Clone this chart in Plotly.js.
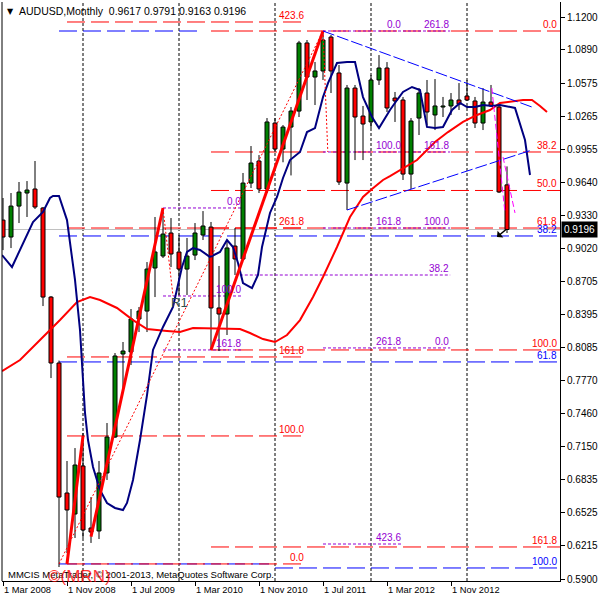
<!DOCTYPE html>
<html><head><meta charset="utf-8">
<script src="https://cdn.plot.ly/plotly-3.0.1.min.js"></script>
<style>html,body{margin:0;padding:0;background:#fff}</style>
</head><body><div id="chart" style="width:600px;height:600px"></div>
<script>
// ---- axis labels ----
const tickMonths = [0, 8, 16, 24, 32, 40, 48, 56];
const tickLabels = ['1 Mar 2008','1 Nov 2008','1 Jul 2009','1 Mar 2010','1 Nov 2010','1 Jul 2011','1 Mar 2012','1 Nov 2012'];
const priceTicks = [1.1200,1.0890,1.0575,1.0265,0.9955,0.9640,0.9330,0.9020,0.8705,0.8395,0.8085,0.7770,0.7460,0.7150,0.6835,0.6525,0.6215,0.5900];

// ---- monthly candles, Mar 2008 .. Jun 2013 ----
const open = [0.9285,0.9125,0.9417,0.9540,0.9578,0.9399,0.8559,0.7937,0.6711,0.6513,
0.6966,0.6381,0.6353,0.6900,0.7239,0.8022,0.8041,0.8352,0.8427,0.8833,
0.8946,0.9163,0.8984,0.8823,0.8955,0.9144,0.9219,0.8456,0.8399,0.9040,
0.8918,0.9634,0.9842,0.9578,1.0200,0.9955,1.0162,1.0313,1.0955,1.0634,
1.0691,1.1011,1.0672,0.9634,1.0530,1.0266,1.0210,1.0606,1.0719,1.0436,
1.0417,0.9719,1.0247,1.0483,1.0276,1.0351,1.0361,1.0417,1.0455,1.0408,
1.0200,1.0398,1.0351,0.9617];
const high = [0.9493,0.9540,0.9644,0.9653,0.9842,0.9408,0.8569,0.7960,0.7013,0.7135,
0.7277,0.6673,0.7013,0.7371,0.8031,0.8135,0.8446,0.8465,0.8889,0.9314,
0.9399,0.9304,0.9144,0.9116,0.9257,0.9370,0.9267,0.8852,0.9078,0.9210,
0.9729,0.9983,0.9898,1.0247,1.0247,1.0181,1.0351,1.0975,1.0983,1.0776,
1.1068,1.1030,1.0747,1.0559,1.0559,1.0361,1.0653,1.0841,1.0775,1.0493,
1.0446,1.0247,1.0530,1.0606,1.0615,1.0446,1.0483,1.0577,1.0606,1.0446,
1.0530,1.0559,1.0389,0.9791];
const low = [0.9002,0.9021,0.9257,0.9314,0.9389,0.8474,0.7795,0.6013,0.6145,0.6287,
0.6287,0.6240,0.6277,0.6834,0.7230,0.7701,0.7918,0.8229,0.8229,0.8559,
0.8927,0.8842,0.8578,0.8578,0.8908,0.9097,0.8060,0.8050,0.8201,0.8767,
0.8908,0.9587,0.9540,0.9540,0.9927,0.9830,0.9706,1.0257,1.0417,1.0370,
1.0606,1.0483,0.9616,0.9380,0.9851,0.9851,1.0153,1.0559,1.0304,1.0210,
0.9663,0.9578,1.0087,1.0181,1.0134,1.0257,1.0276,1.0323,1.0408,1.0153,
1.0134,1.0351,0.9540,0.9163];
const close = [0.9125,0.9417,0.9549,0.9568,0.9408,0.8559,0.7937,0.6673,0.6551,0.6975,
0.6362,0.6343,0.6900,0.7239,0.8003,0.8050,0.8352,0.8427,0.8823,0.8984,
0.9153,0.8965,0.8823,0.8946,0.9163,0.9229,0.8456,0.8399,0.9022,0.8918,
0.9634,0.9823,0.9578,1.0210,0.9955,1.0162,1.0313,1.0955,1.0634,1.0691,
1.0983,1.0691,0.9644,1.0530,1.0257,1.0191,1.0606,1.0719,1.0342,1.0408,
0.9719,1.0219,1.0483,1.0304,1.0361,1.0361,1.0417,1.0379,1.0417,1.0200,
1.0398,1.0361,0.9550,0.9196];

// ---- moving averages ----
const navyX = [-0.12,1.125,3.75,5,5.875,6.25,7,8,9,9.625,10,10.25,10.625,11.25,12.125,13,14,15,15.5,16.25,17.125,18,18.75,20,21.25,22.375,23,23.75,24.625,25.875,27.125,28,28.75,29.375,30,31.125,31.875,32.375,33.375,34.25,35,35.875,37.125,38,39,40,40.625,41.75,43,44,45,46.125,47,48.375,49.25,50,51.125,52.125,53,54,55,56.125,57.125,58,59,60,61.125,62.125,64,64.625,65.25,65.875];
const navyY = [0.8955,0.8842,0.9267,0.9361,0.9493,0.9512,0.9512,0.9285,0.8720,0.8248,0.7777,0.7466,0.7211,0.6956,0.6739,0.6617,0.6570,0.6551,0.6617,0.6834,0.7211,0.7635,0.8060,0.8277,0.8465,0.8842,0.8984,0.9021,0.9003,0.8937,0.8984,0.9097,0.9031,0.8880,0.8691,0.8644,0.8767,0.9031,0.9352,0.9503,0.9682,0.9851,0.9927,1.0115,1.0153,1.0445,1.0577,1.0766,1.0776,1.0776,1.0445,1.0257,1.0153,1.0323,1.0417,1.0493,1.0540,1.0512,1.0163,1.0153,1.0163,1.0323,1.0389,1.0351,1.0351,1.0370,1.0361,1.0370,1.0342,1.0200,1.0040,0.9710];
const redMaX = [-0.125,2.125,4.625,7.125,9.25,10.875,12.125,14.25,16.25,18,20.5,22.125,23.75,29.625,30.875,32.5,34,35.5,37.125,38.75,40,41.75,43.375,45,46.125,47.5,48.375,50,51.75,54,55.625,57.5,59.25,60.875,62.125,65,66.125,67.125,68];
const redMaY = [0.7861,0.7965,0.8154,0.8342,0.8512,0.8559,0.8531,0.8456,0.8342,0.8258,0.8239,0.8229,0.8267,0.8258,0.8220,0.8163,0.8135,0.8201,0.8342,0.8559,0.8748,0.9031,0.9314,0.9503,0.9578,0.9663,0.9700,0.9776,0.9851,1.0021,1.0115,1.0210,1.0276,1.0323,1.0389,1.0417,1.0417,1.0361,1.0304];

// ---- period separators (January of each year) ----
const yearStarts = [10, 22, 34, 46, 58];

// ---- Fibonacci objects ----
const fibRedRLevels = [1.1068,0.9927,0.9564,0.9210,0.8060,0.6202];
const fibRedRLabels = ['0.0','38.2','50.0','61.8','100.0','161.8'];
const fibRedRSpan = [26, 69.7];
const fibRedLLevels = [1.1153,0.9210,0.7994,0.7249,0.6042];
const fibRedLLabels = ['423.6','261.8','161.8','100.0','0.0'];
const fibRedLSpan = [8, 37.75];
const fibBlueLevels = [1.1068,0.9135,0.7947,0.6042,0.6004];
const fibBlueLabels = ['','38.2','61.8','','100.0'];
const fibBlueStart = [7,7,7,7,34];
const fibBlueEnd = [24.25,69.7,69.7,34,69.7];
const fibPurALevels = [0.9399,0.8569,0.8060];
const fibPurALabels = ['0.0','100.0','161.8'];
const fibPurASpan = [20, 29.9];
const fibPurBLevels = [1.1068,0.9927,0.9210,0.8079,0.6230,0.8767];
const fibPurBStart = [40,40,40,40,40,29.6];
const fibPurBEnd = [55.9,55.9,55.9,55.9,49.9,55.9];
const fibPurB1Labels = ['0.0','100.0','161.8','261.8','423.6'];
const fibPurB1Levels = [1.1068,0.9927,0.9210,0.8079,0.6230];
const fibPurB2Labels = ['261.8','161.8','100.0','38.2','0.0'];
const fibPurB2Levels = [1.1068,0.9927,0.9210,0.8767,0.8079];

// ---- trend lines [x0,x1],[y0,y1] ----
const zig1 = {x:[8,10], y:[0.6042,0.7249]};
const zig2 = {x:[11,20], y:[0.6300,0.9399]};
const zig3 = {x:[26,40], y:[0.8060,1.1068]};
const dot1 = {x:[7,40], y:[0.6042,1.1068]};
const dot2 = {x:[20,21.25], y:[0.9399,0.8569]};
const dot3 = {x:[40,40.6], y:[1.1068,0.9927]};
const triUp = {x:[40,66.125], y:[1.1068,1.0351]};
const triLo = {x:[43,66.125], y:[0.9380,0.9946]};
const mag1 = {x:[61.1,62.75], y:[1.0530,0.9352]};
const mag2 = {x:[62.5,64], y:[0.9880,0.9352]};

const FONT = 'Liberation Sans, Arial, sans-serif';
const n = open.length;
const lastClose = close[n - 1];

// bodies
const upX=[],upB=[],upH=[],dnX=[],dnB=[],dnH=[];
const wx=[],wy=[];
for (let i=0;i<n;i++){
  const top=Math.max(open[i],close[i]), bot=Math.min(open[i],close[i]);
  if (close[i]>=open[i]) {upX.push(i);upB.push(bot);upH.push(top-bot);} else {dnX.push(i);dnB.push(bot);dnH.push(top-bot);}
  wx.push(i,i,null,i,i,null); wy.push(high[i],top,null,bot,low[i],null);
}
const traces = [
  {type:'bar', x:upX, base:upB, y:upH, width:0.5, marker:{color:'#008000', line:{color:'#000', width:1}}, hoverinfo:'skip'},
  {type:'bar', x:dnX, base:dnB, y:dnH, width:0.5, marker:{color:'#ff0000', line:{color:'#000', width:1}}, hoverinfo:'skip'},
  {type:'scatter', mode:'lines', x:wx, y:wy, line:{color:'#000', width:1}, connectgaps:false, hoverinfo:'skip'},
  {type:'scatter', mode:'lines', x:redMaX, y:redMaY, line:{color:'#ff0000', width:2}, hoverinfo:'skip'},
  {type:'scatter', mode:'lines', x:navyX, y:navyY, line:{color:'#000080', width:2}, hoverinfo:'skip'},
];
function seg(o, color, width, dash){ traces.push({type:'scatter', mode:'lines', x:o.x, y:o.y, line:{color, width, dash}, hoverinfo:'skip'}); }
seg(dot1,'#ff0000',1,'2px,2px');
seg(dot2,'#ff0000',1,'2px,2px');
seg(dot3,'#ff0000',1,'2px,2px');
seg(zig1,'#ff0000',3,'solid');
seg(zig2,'#ff0000',3,'solid');
seg(zig3,'#ff0000',3,'solid');
seg(triUp,'#0000ff',1,'12px,3px');
seg(triLo,'#0000ff',1,'12px,3px');
seg(mag1,'#ff00ff',1,'6px,3px');
seg(mag2,'#ff00ff',1,'6px,3px');

const shapes = [];
const annotations = [];
function hline(y,x0,x1,color,dash){ shapes.push({type:'line', xref:'x', yref:'y', x0, x1, y0:y, y1:y, layer:'below', line:{color, width:1, dash}}); }
function lab(text,x,y,color){ if(!text) return; annotations.push({text, x, y, xref:'x', yref:'y', xanchor:'right', yanchor:'bottom', showarrow:false, borderpad:0, font:{family:FONT, size:10, color}}); }

const RED_DASH='18px,6px', PUR_DOT='3px,2px';
yearStarts.forEach(m => shapes.push({type:'line', xref:'x', yref:'paper', x0:m, x1:m, y0:0, y1:1, layer:'below', line:{color:'#000', width:1, dash:'3px,2px'}}));
shapes.push({type:'line', xref:'paper', yref:'y', x0:0, x1:1, y0:lastClose, y1:lastClose, layer:'below', line:{color:'#c0c0c0', width:1}});
shapes.push({type:'line', xref:'paper', yref:'paper', x0:0, x1:0, y0:0, y1:1, line:{color:'#000', width:1}});

fibBlueLevels.forEach((v,i)=>{ hline(v,fibBlueStart[i],fibBlueEnd[i],'#0000ff',RED_DASH); lab(fibBlueLabels[i],69.4,v,'#0000ff'); });
fibRedLLevels.forEach((v,i)=>{ hline(v,fibRedLSpan[0],fibRedLSpan[1],'#ff0000',RED_DASH); lab(fibRedLLabels[i],fibRedLSpan[1],v,'#ff0000'); });
fibRedRLevels.forEach((v,i)=>{ hline(v,fibRedRSpan[0],fibRedRSpan[1],'#ff0000',RED_DASH); lab(fibRedRLabels[i],69.4,v,'#ff0000'); });
fibPurALevels.forEach((v,i)=>{ hline(v,fibPurASpan[0],fibPurASpan[1],'#9400d3',PUR_DOT); lab(fibPurALabels[i],fibPurASpan[1],v,'#9400d3'); });
fibPurBLevels.forEach((v,i)=>{ hline(v,fibPurBStart[i],fibPurBEnd[i],'#9400d3',PUR_DOT); });
fibPurB1Levels.forEach((v,i)=> lab(fibPurB1Labels[i],49.9,v,'#9400d3'));
fibPurB2Levels.forEach((v,i)=> lab(fibPurB2Labels[i],55.9,v,'#9400d3'));

annotations.push({text:'R1', x:22, y:0.8512, xref:'x', yref:'y', showarrow:false, font:{family:FONT, size:13, color:'#2f4f4f'}});
annotations.push({text:'', x:61.75, y:0.9125, ax:63.1, ay:0.9210, axref:'x', ayref:'y', xref:'x', yref:'y', showarrow:true, arrowhead:1, arrowsize:1, arrowwidth:1.5, arrowcolor:'#000'});
// title
annotations.push({text:'▼', xref:'paper', yref:'paper', x:(10-2)/558, y:(581-11)/579, xanchor:'center', yanchor:'middle', showarrow:false, font:{family:'DejaVu Sans', size:8, color:'#000'}});
annotations.push({text:'AUDUSD,Monthly\u00a0\u00a0' + [open[n-1],high[n-1],low[n-1],close[n-1]].map(v=>v.toFixed(4)).join('\u00a0'), xref:'paper', yref:'paper', x:(17-2)/558, y:(581-11)/579, xanchor:'left', yanchor:'middle', showarrow:false, font:{family:FONT, size:10.5, color:'#000'}});
// copyright + watermark
annotations.push({text:'MMCIS MetaTrader, © 2001-2013, MetaQuotes Software Corp.', xref:'paper', yref:'paper', x:(6-2)/558, y:(581-574)/579, xanchor:'left', yanchor:'middle', showarrow:false, font:{family:FONT, size:9.5, color:'#000'}});
annotations.push({text:'©(MRN)', xref:'paper', yref:'paper', x:(46-2)/558, y:(581-576)/579, xanchor:'left', yanchor:'middle', showarrow:false, font:{family:FONT, size:17, color:'rgba(255,0,0,0.8)'}});
// current price box
annotations.push({text:lastClose.toFixed(4), xref:'paper', yref:'y', x:1, y:lastClose, xanchor:'left', yanchor:'middle', xshift:1, showarrow:false, bgcolor:'#000', borderpad:2, font:{family:FONT, size:10, color:'#fff'}});

const layout = {
  width:600, height:600,
  margin:{l:2, r:40, t:2, b:19, pad:0},
  paper_bgcolor:'#fff', plot_bgcolor:'#fff',
  showlegend:false, barmode:'overlay', dragmode:false,
  xaxis:{range:[-0.125,69.625], tickvals:tickMonths, ticktext:tickLabels, ticks:'outside', ticklen:4, tickcolor:'#000',
         ticklabelposition:'outside right', showgrid:false, zeroline:false, showline:true, linecolor:'#000', linewidth:1,
         tickfont:{family:FONT, size:9.3, color:'#000'}, fixedrange:true},
  yaxis:{side:'right', range:[0.58812,1.13415], tickvals:priceTicks, ticktext:priceTicks.map(v=>v.toFixed(4)), ticks:'outside', ticklen:4, tickcolor:'#000',
         showgrid:false, zeroline:false, showline:true, linecolor:'#000', linewidth:1, tickfont:{family:FONT, size:10, color:'#000'}, fixedrange:true},
  shapes, annotations
};
Plotly.newPlot('chart', traces, layout, {displayModeBar:false, staticPlot:true});
</script>
</body></html>
